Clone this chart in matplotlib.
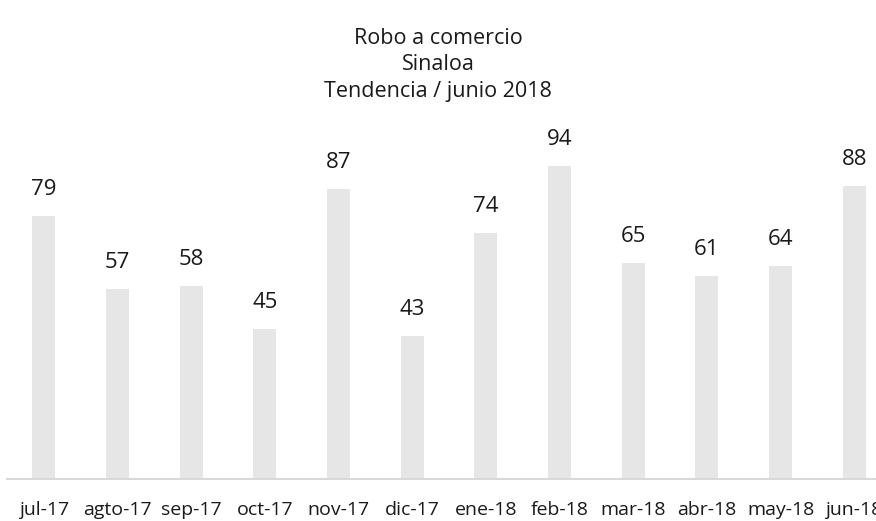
import matplotlib
matplotlib.use("Agg")
import matplotlib.pyplot as plt

categories = ["jul-17", "agto-17", "sep-17", "oct-17", "nov-17", "dic-17",
              "ene-18", "feb-18", "mar-18", "abr-18", "may-18", "jun-18"]
values = [79, 57, 58, 45, 87, 43, 74, 94, 65, 61, 64, 88]
title_lines = ["Robo a comercio", "Sinaloa", "Tendencia / junio 2018"]

plt.rcParams['font.family'] = ['Open Sans', 'DejaVu Sans']

W, H = 876, 521
fig = plt.figure(figsize=(W / 100, H / 100), dpi=100)
left_px, right_px = 7, 891
base_px = 479
ymax = 100
height_px = ymax * 3.33
ax = fig.add_axes([left_px / W, (H - base_px) / H, (right_px - left_px) / W, height_px / H])

x = range(len(categories))
ax.bar(x, values, width=23 / 73.7, color="#e6e6e6", zorder=2)
ax.set_xlim(-0.5, len(categories) - 0.5)
ax.set_ylim(0, ymax)

for xi, v in zip(x, values):
    ax.annotate(str(v), (xi, v), xytext=(0, 19), textcoords="offset points",
                ha="center", va="center", fontsize=16, color="#1a1a1a")

for s in ["top", "right", "left"]:
    ax.spines[s].set_visible(False)
ax.spines["bottom"].set_color("#d9d9d9")
ax.spines["bottom"].set_linewidth(1.5)
ax.set_yticks([])
ax.set_xticks(list(x))
ax.set_xticklabels(categories, fontsize=14, color="#1a1a1a")
ax.tick_params(axis="x", length=0, pad=16)

for i, t in enumerate(title_lines):
    fig.text(0.5, 1 - (38 + 27 * i) / H, t, ha="center", va="center",
             fontsize=15.5, color="#1a1a1a")

fig.savefig("out.png", dpi=100)
